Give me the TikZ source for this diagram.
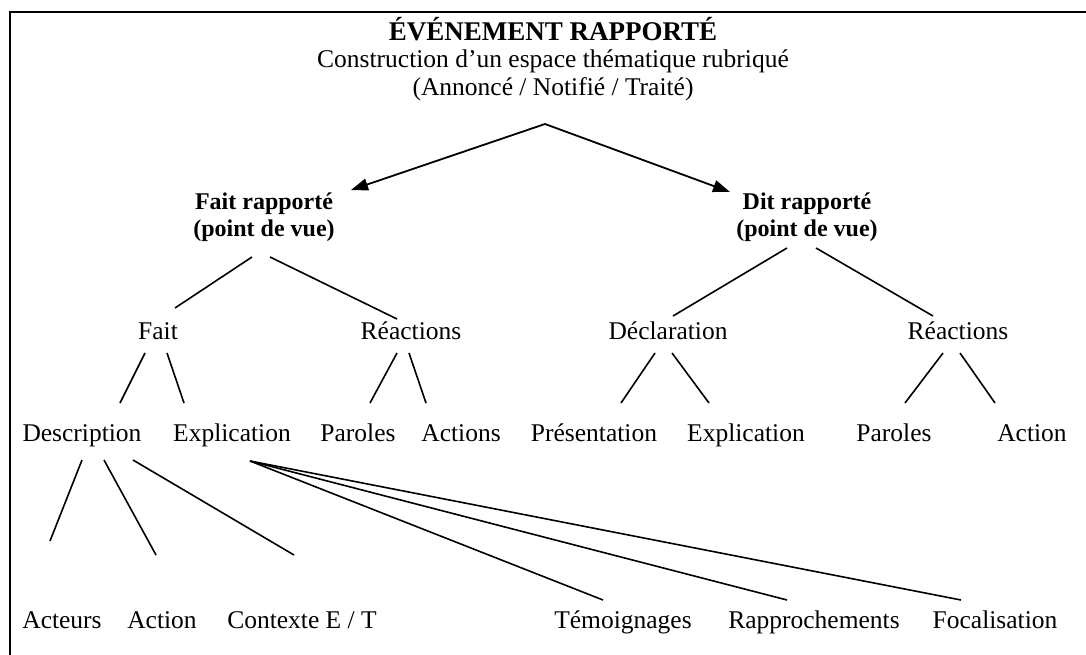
\documentclass[tikz,border=0pt]{standalone}
\usepackage{fontspec}
\setmainfont{Liberation Serif}
\usetikzlibrary{arrows.meta}

\tikzset{
  lbl/.style={anchor=base,inner sep=0pt},
  hd/.style={lbl,font=\bfseries\fontsize{24}{28}\selectfont},
  br/.style={line width=1.6pt},
  arr/.style={line width=1.8pt,-{Triangle[length=17pt,width=12pt]}}
}

\begin{document}
\begin{tikzpicture}[x=1pt,y=-1pt,font=\fontsize{25.5}{30}\selectfont]
\useasboundingbox (0,0) rectangle (1086,655);
\clip (0,0) rectangle (1086,655);
\draw[line width=2.4pt] (10,12) rectangle (1100,680);

% top
\node[hd,font=\bfseries\fontsize{27}{30}\selectfont] (ev) at (553,41) {ÉVÉNEMENT RAPPORTÉ};
\node[lbl] (cons) at (553,68) {Construction d’un espace thématique rubriqué};
\node[lbl] (ann) at (553,96) {(Annoncé / Notifié / Traité)};

% level 2
\node[hd] (fr1) at (264,209) {Fait rapporté};
\node[hd] (fr2) at (264,236) {(point de vue)};
\node[hd] (dr1) at (807,209) {Dit rapporté};
\node[hd] (dr2) at (807,236) {(point de vue)};

\draw[arr] ([shift={(-8,28)}]ann.base) -- ([shift={(87,-19)}]fr1.base);
\draw[arr] ([shift={(-8,28)}]ann.base) -- ([shift={(-77,-17)}]dr1.base);

% level 3
\node[lbl] (fait) at (158,339) {Fait};
\node[lbl] (reacA) at (411,339) {Réactions};
\node[lbl] (decl) at (668,339) {Déclaration};
\node[lbl] (reacB) at (958,339) {Réactions};

\draw[br] ([shift={(-12,21)}]fr2.base) -- ([shift={(17,-31)}]fait.base);
\draw[br] ([shift={(6,21)}]fr2.base) -- ([shift={(-14,-20)}]reacA.base);
\draw[br] ([shift={(-20,12)}]dr2.base) -- ([shift={(5,-23)}]decl.base);
\draw[br] ([shift={(9,12)}]dr2.base) -- ([shift={(-25,-23)}]reacB.base);

% level 4
\node[lbl] (desc) at (82,441) {Description};
\node[lbl] (explA) at (232,441) {Explication};
\node[lbl] (parA) at (358,441) {Paroles};
\node[lbl] (actsA) at (461,441) {Actions};
\node[lbl] (pres) at (594,441) {Présentation};
\node[lbl] (explB) at (746,441) {Explication};
\node[lbl] (parB) at (894,441) {Paroles};
\node[lbl] (actB) at (1032,441) {Action};

\draw[br] ([shift={(-13,14)}]fait.base) -- ([shift={(38,-38)}]desc.base);
\draw[br] ([shift={(9,14)}]fait.base) -- ([shift={(-48,-38)}]explA.base);
\draw[br] ([shift={(-14,14)}]reacA.base) -- ([shift={(12,-38)}]parA.base);
\draw[br] ([shift={(-2,14)}]reacA.base) -- ([shift={(-35,-38)}]actsA.base);
\draw[br] ([shift={(-13,14)}]decl.base) -- ([shift={(27,-38)}]pres.base);
\draw[br] ([shift={(4,14)}]decl.base) -- ([shift={(-37,-38)}]explB.base);
\draw[br] ([shift={(-15,14)}]reacB.base) -- ([shift={(11,-38)}]parB.base);
\draw[br] ([shift={(2,14)}]reacB.base) -- ([shift={(-37,-38)}]actB.base);

% level 5
\node[lbl] (acteurs) at (62,628) {Acteurs};
\node[lbl] (actC) at (162,628) {Action};
\node[lbl] (ctx) at (302,628) {Contexte E / T};
\node[lbl] (temo) at (623,628) {Témoignages};
\node[lbl] (rappr) at (814,628) {Rapprochements};
\node[lbl] (foca) at (995,628) {Focalisation};

\draw[br] ([shift={(0,19)}]desc.base) -- ([shift={(-12,-87)}]acteurs.base);
\draw[br] ([shift={(22,19)}]desc.base) -- ([shift={(-6,-73)}]actC.base);
\draw[br] ([shift={(51,19)}]desc.base) -- ([shift={(-8,-73)}]ctx.base);
\draw[br] ([shift={(18,20)}]explA.base) -- ([shift={(-20,-28)}]temo.base);
\draw[br] ([shift={(18,20)}]explA.base) -- ([shift={(-27,-28)}]rappr.base);
\draw[br] ([shift={(18,20)}]explA.base) -- ([shift={(-34,-28)}]foca.base);
\end{tikzpicture}
\end{document}
